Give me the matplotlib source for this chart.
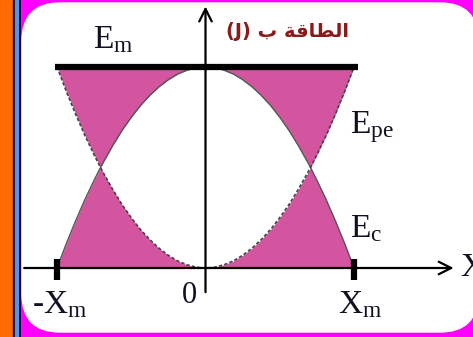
import numpy as np
import matplotlib.pyplot as plt
from matplotlib.patches import Rectangle, FancyBboxPatch

plt.rcParams['mathtext.fontset'] = 'custom'
plt.rcParams['mathtext.rm'] = 'Liberation Serif'
plt.rcParams['mathtext.it'] = 'Liberation Serif:italic'

# Positions (en unites de Xm) et energies (en unites de Em)
x_pos = [-1.0, -0.9375, -0.875, -0.8125, -0.75, -0.707, -0.6875, -0.625, -0.5625,
         -0.5, -0.4375, -0.375, -0.3125, -0.25, -0.1875, -0.125, -0.0625, 0.0,
         0.0625, 0.125, 0.1875, 0.25, 0.3125, 0.375, 0.4375, 0.5,
         0.5625, 0.625, 0.6875, 0.707, 0.75, 0.8125, 0.875, 0.9375, 1.0]
e_pe = [1.0, 0.879, 0.766, 0.660, 0.563, 0.5, 0.473, 0.391, 0.316,
        0.25, 0.191, 0.141, 0.098, 0.063, 0.035, 0.016, 0.004, 0.0,
        0.004, 0.016, 0.035, 0.063, 0.098, 0.141, 0.191, 0.25,
        0.316, 0.391, 0.473, 0.5, 0.563, 0.660, 0.766, 0.879, 1.0]
e_c = [0.0, 0.121, 0.234, 0.340, 0.437, 0.5, 0.527, 0.609, 0.684,
       0.75, 0.809, 0.859, 0.902, 0.937, 0.965, 0.984, 0.996, 1.0,
       0.996, 0.984, 0.965, 0.937, 0.902, 0.859, 0.809, 0.75,
       0.684, 0.609, 0.527, 0.5, 0.437, 0.340, 0.234, 0.121, 0.0]
e_m = 1.0
x_m = 1.0

title_ar = "(J) \ufe8f \ufe94\ufed7\ufe8e\ufec4\ufedf\ufe8d"  # الطاقة ب (J)
label_em = r'$\mathrm{E_m}$'
label_epe = r'$\mathrm{E_{pe}}$'
label_ec = r'$\mathrm{E_c}$'
label_xm = r'$\mathrm{X_m}$'
label_mxm = r'-$\mathrm{X_m}$'

pink = '#d4559f'
txt = '#111122'

fig = plt.figure(figsize=(4.73, 3.37), dpi=100)

# cadre decoratif
bg = fig.add_axes([0, 0, 1, 1])
bg.set_xlim(0, 473)
bg.set_ylim(337, 0)
bg.axis('off')
bg.add_patch(Rectangle((0, 0), 13, 337, color='#ff6a00'))
bg.add_patch(Rectangle((13, 0), 6.5, 337, color='black'))
bg.add_patch(Rectangle((14.8, 0), 2.8, 337, color='#5b8ff0'))
bg.add_patch(Rectangle((20.5, 0), 460, 337, color='#ff00ff'))
bg.add_patch(FancyBboxPatch((22 + 38, 3 + 38), 478 - 22 - 76, 332 - 3 - 76,
                            boxstyle='round,pad=38', color='white'))

ax = fig.add_axes([0, 0, 1, 1])
ax.patch.set_alpha(0)
ax.axis('off')
ax.set_xlim(-205.5 / 148.5, (473 - 205.5) / 148.5)
ax.set_ylim(-(337 - 268) / 201, 268 / 201)

x = np.array(x_pos)
epe = np.array(e_pe)
ec = np.array(e_c)

# zones colorees
ax.fill_between(x, np.maximum(epe, ec), e_m, color=pink, lw=0)
ax.fill_between(x, 0, np.minimum(epe, ec), color=pink, lw=0)

ax.plot(x, ec, color='#555555', lw=1.0)
ax.plot(x, epe, color='#444444', lw=1.2, dashes=(2, 1.3))

# Em
ax.plot([-1.013 * x_m, 1.027 * x_m], [e_m, e_m], color='black', lw=4.5, solid_capstyle='butt')

# axes
ax.annotate('', xy=(1.69, 0), xytext=(-1.24, 0),
            arrowprops=dict(arrowstyle='->,head_length=0.9,head_width=0.45', color='black', lw=1.6))
ax.annotate('', xy=(0, 1.315), xytext=(0, -0.134),
            arrowprops=dict(arrowstyle='->,head_length=0.9,head_width=0.45', color='black', lw=1.6))
ax.vlines([-x_m, x_m], -0.06, 0.045, color='black', lw=4.5)

fs = 24
ax.text(-0.76, 1.095, label_em, fontsize=fs, color=txt, ha='left', va='baseline')
ax.text(0.973, 0.672, label_epe, fontsize=fs, color=txt, ha='left', va='baseline')
ax.text(0.973, 0.154, label_ec, fontsize=fs, color=txt, ha='left', va='baseline')
ax.text(-1.165, -0.224, label_mxm, fontsize=fs, color=txt, ha='left', va='baseline',
        family='Liberation Serif')
ax.text(0.892, -0.224, label_xm, fontsize=fs, color=txt, ha='left', va='baseline')
ax.text(-0.158, -0.174, '0', fontsize=22, color=txt, ha='left', va='baseline',
        family='Liberation Serif')
ax.text(1.714, 0, 'X', fontsize=fs, color=txt, ha='left', va='center',
        family='Liberation Serif')
ax.text(0.552, 1.179, title_ar, fontsize=14, color='#8b1a1a', fontweight='bold',
        ha='center', va='center', family=['DejaVu Sans'])

fig.savefig('out.png', dpi=100)
